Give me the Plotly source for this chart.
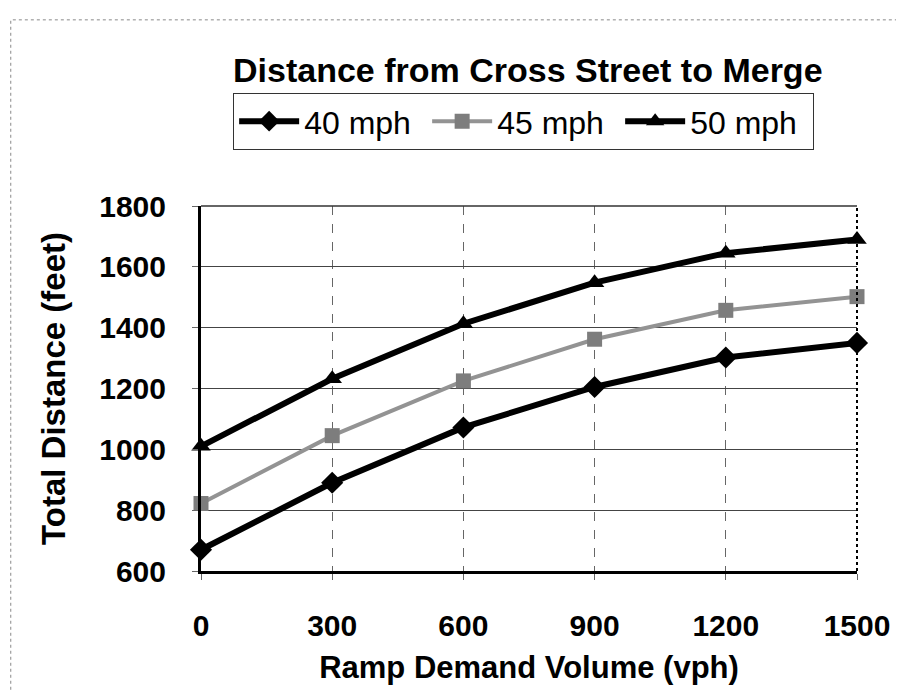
import plotly.graph_objects as go

# Ramp demand volume (vph)
volume = [0, 300, 600, 900, 1200, 1500]

# Total distance from cross street to merge (feet)
dist_40 = [670, 890, 1072, 1205, 1302, 1350]
dist_45 = [822, 1045, 1225, 1362, 1457, 1502]
dist_50 = [1010, 1232, 1413, 1548, 1645, 1690]

x_ticks = [0, 300, 600, 900, 1200, 1500]
y_ticks = [600, 800, 1000, 1200, 1400, 1600, 1800]

FONT = "Arial, Liberation Sans, sans-serif"

fig = go.Figure()

fig.add_trace(go.Scatter(
    x=volume, y=dist_40, name="40 mph", mode="lines+markers",
    line=dict(color="black", width=6),
    marker=dict(symbol="diamond", size=17, color="black"),
    cliponaxis=False,
))
fig.add_trace(go.Scatter(
    x=volume, y=dist_45, name="45 mph", mode="lines+markers",
    line=dict(color="#939393", width=4),
    marker=dict(symbol="square", size=15, color="#7d7d7d"),
    cliponaxis=False,
))
fig.add_trace(go.Scatter(
    x=volume, y=dist_50, name="50 mph", mode="lines+markers",
    line=dict(color="black", width=6),
    marker=dict(symbol="triangle-up", size=17, color="black"),
    cliponaxis=False,
))

# plot frame: thin top, dotted right, outer page border
fig.add_shape(type="line", xref="paper", yref="paper", x0=0, x1=1, y0=1, y1=1,
              line=dict(color="#333", width=1.5))
fig.add_shape(type="line", xref="paper", yref="paper", x0=1, x1=1, y0=0, y1=1,
              line=dict(color="black", width=2, dash="dot"))
fig.add_shape(type="rect", xref="paper", yref="paper",
              x0=-0.29, x1=1.075, y0=-0.37, y1=1.51,
              line=dict(color="#888", width=1, dash="dot"))

fig.update_layout(
    width=904, height=691,
    margin=dict(l=193, r=55, t=198, b=128),
    paper_bgcolor="white", plot_bgcolor="white",
    font=dict(family=FONT, color="black"),
    title=dict(
        text="<b>Distance from Cross Street to Merge</b>",
        font=dict(size=34, family=FONT, color="black"),
        x=0.575, xanchor="center", y=0.91, yanchor="middle",
    ),
    legend=dict(
        orientation="h", x=0.049, y=1.31, xanchor="left", yanchor="top",
        font=dict(size=32, family=FONT, color="black"),
        bordercolor="#333", borderwidth=1, bgcolor="white",
        itemwidth=60, tracegroupgap=0,
        entrywidth=118, entrywidthmode="pixels",
    ),
    showlegend=True,
)

fig.update_xaxes(
    range=[0, 1500], tickvals=x_ticks,
    ticktext=[f"<b>{v}</b>" for v in x_ticks],
    tickfont=dict(size=30, family=FONT, color="black"),
    ticks="outside", ticklen=6, tickcolor="#666",
    ticklabelstandoff=20,
    showgrid=True, gridcolor="#666", gridwidth=1, griddash="dash",
    showline=True, linecolor="black", linewidth=3,
    zeroline=False,
    title=dict(text="<b>Ramp Demand Volume (vph)</b>",
               font=dict(size=31, family=FONT, color="black"), standoff=16),
)
fig.update_yaxes(
    range=[600, 1800], tickvals=y_ticks,
    ticktext=[f"<b>{v}</b>" for v in y_ticks],
    tickfont=dict(size=30, family=FONT, color="black"),
    ticks="outside", ticklen=6, tickcolor="#666",
    ticklabelstandoff=20,
    showgrid=True, gridcolor="#444", gridwidth=1,
    showline=True, linecolor="black", linewidth=3,
    zeroline=False,
    title=dict(text="<b>Total Distance (feet)</b>",
               font=dict(size=33, family=FONT, color="black"), standoff=24),
)

fig.write_html("out.html")
